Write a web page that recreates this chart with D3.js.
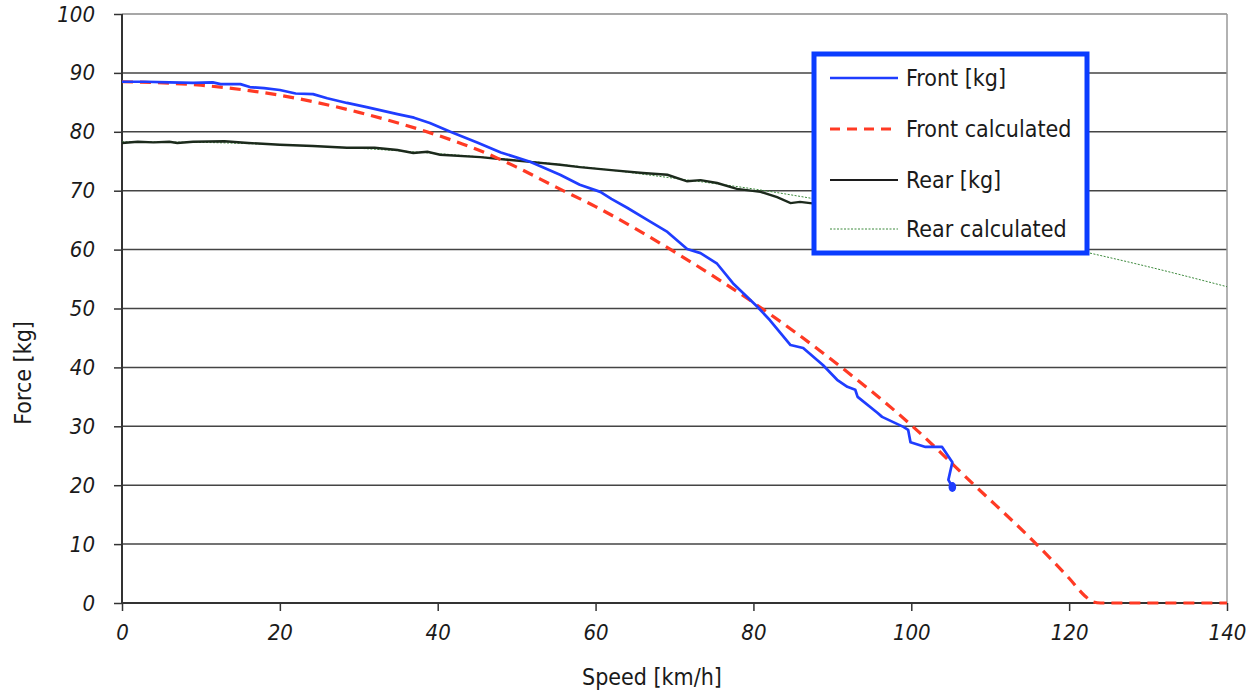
<!DOCTYPE html>
<html><head><meta charset="utf-8">
<script src="https://cdn.jsdelivr.net/npm/d3@7"></script>
<style>
body{margin:0;background:#fff;}
svg{display:block;}
text{font-family:"DejaVu Sans Condensed","DejaVu Sans",Verdana,sans-serif;fill:#1a1a1a;}
</style></head><body>
<svg id="c" width="1259" height="694"></svg>
<script>
const xTicks=[0,20,40,60,80,100,120,140];
const yTicks=[0,10,20,30,40,50,60,70,80,90,100];
const seriesNames=["Front [kg]","Front calculated","Rear [kg]","Rear calculated"];
const frontMeasured=[[0,88.5],[3,88.5],[6,88.4],[9,88.3],[11.5,88.4],[12.5,88.1],[15,88.1],[16.2,87.6],[18,87.4],[20,87.1],[22,86.5],[24.2,86.4],[26,85.7],[28.5,84.9],[31,84.2],[34.9,83.0],[37,82.4],[39,81.5],[41.6,80.0],[45,78.2],[48,76.5],[51.7,74.9],[55.5,72.7],[58,71.0],[60.6,69.8],[62,68.6],[64,67.1],[66.5,65.1],[69.1,63.0],[71.6,60.1],[73.3,59.4],[75.4,57.6],[77.4,54.3],[80.5,50.3],[82.1,48.0],[84.7,43.8],[86.3,43.3],[88.8,40.4],[90.6,37.9],[91.9,36.7],[92.9,36.2],[93.2,35.0],[95.7,32.3],[96.3,31.6],[99,29.9],[99.6,29.4],[99.9,27.3],[101.8,26.5],[103.9,26.5],[105.2,23.9],[104.7,20.9],[105.2,19.7]];
const frontCalculated=[[0,88.5],[10,87.9],[20,86.2],[30,83.3],[40,79.4],[45,77.0],[50,74.0],[55,70.6],[60,67.3],[70,59.6],[80,51.0],[90,41.2],[100,30.2],[108,20.0],[116,9.8],[120,4.2],[122,1.2],[123,0.2],[124,0],[140,0]];
const rearMeasured=[[0,78.1],[2,78.3],[4,78.2],[6,78.3],[7,78.1],[9,78.3],[13,78.4],[16,78.1],[20,77.8],[24.2,77.6],[28.5,77.3],[32,77.3],[34.9,76.9],[36.9,76.4],[38.7,76.6],[40.3,76.1],[45.4,75.7],[51.7,74.9],[55.5,74.4],[58,74.0],[62,73.5],[66,73.0],[69.1,72.7],[71.6,71.6],[73.3,71.8],[75.4,71.3],[77.9,70.3],[80.9,69.8],[83,68.9],[84.7,67.9],[85.9,68.1],[87.2,67.9],[90,67.5]];
const rearCalculated=[[0,78.3],[10,78.2],[20,77.8],[30,77.2],[40,76.3],[50,75.2],[60,73.8],[70,72.1],[80,70.3],[90,68.1],[100,65.7],[110,63.1],[120,60.2],[130,57.1],[140,53.7]];

const svg=d3.select("#c");
const L=122,R=1227,T=14,B=603;
const x=d3.scaleLinear().domain([0,140]).range([L,R]);
const y=d3.scaleLinear().domain([0,100]).range([B,T]);

// gridlines
svg.append("g").selectAll("line").data(yTicks.filter(d=>d>0)).join("line")
 .attr("x1",L).attr("x2",R).attr("y1",d=>y(d)).attr("y2",d=>y(d))
 .attr("stroke",d=>d===100?"#8a8a8a":"#444").attr("stroke-width",1.5);
// right border
svg.append("line").attr("x1",R).attr("x2",R).attr("y1",T).attr("y2",B).attr("stroke","#999").attr("stroke-width",1.5);

// axes
const yAxis=d3.axisLeft(y).tickValues(yTicks).tickSize(8).tickPadding(19).tickFormat(d3.format("d"));
const gy=svg.append("g").attr("transform",`translate(${L},0)`).call(yAxis);
const xAxis=d3.axisBottom(x).tickValues(xTicks).tickSize(8).tickPadding(13).tickFormat(d3.format("d"));
const gx=svg.append("g").attr("transform",`translate(0,${B})`).call(xAxis);
[gx,gy].forEach(g=>{
 g.select(".domain").attr("stroke","#333").attr("stroke-width",2);
 g.selectAll(".tick line").attr("stroke","#333").attr("stroke-width",1.5);
 g.selectAll(".tick text").attr("font-family","DejaVu Sans Condensed, DejaVu Sans, Verdana, sans-serif").attr("font-style","italic").attr("font-size",22).attr("fill","#1a1a1a");
});
gx.select(".domain").attr("d",`M${L},0H${R}`);
gy.select(".domain").attr("d",`M0,${B}V${T}`);

const line=d3.line().x(d=>x(d[0])).y(d=>y(d[1]));
const smooth=d3.line().x(d=>x(d[0])).y(d=>y(d[1])).curve(d3.curveMonotoneX);

svg.append("path").datum(rearCalculated).attr("d",smooth).attr("fill","none").attr("stroke","#3d8a3d").attr("stroke-width",1).attr("stroke-dasharray","2,1.5");
svg.append("path").datum(rearMeasured).attr("d",line).attr("fill","none").attr("stroke","#1c2a1c").attr("stroke-width",2.4);
svg.append("path").datum(frontCalculated).attr("d",smooth).attr("fill","none").attr("stroke","#ff3a24").attr("stroke-width",3.2).attr("stroke-dasharray","11,7");
svg.append("path").datum(frontMeasured).attr("d",line).attr("fill","none").attr("stroke","#1f3dff").attr("stroke-width",2.7).attr("stroke-linejoin","round");
const last=frontMeasured[frontMeasured.length-1];
svg.append("ellipse").attr("cx",x(last[0])).attr("cy",y(last[1])).attr("rx",3.8).attr("ry",5).attr("fill","#1f3dff");

// axis titles
svg.append("text").attr("x",652).attr("y",685).attr("text-anchor","middle").attr("font-size",23).text("Speed [km/h]");
svg.append("text").attr("transform","translate(31,373) rotate(-90)").attr("text-anchor","middle").attr("font-size",23).text("Force [kg]");

// legend
const lg=svg.append("g");
lg.append("rect").attr("x",814).attr("y",54).attr("width",273).attr("height",199).attr("fill","#fff").attr("stroke","#0a3cff").attr("stroke-width",5);
const styles=[
 {stroke:"#1f3dff",w:2.4,dash:null},
 {stroke:"#ff3a24",w:3,dash:"10,7"},
 {stroke:"#1c1c1c",w:2.2,dash:null},
 {stroke:"#3d8a3d",w:1,dash:"2,1.5"}];
const rowY=[78,129,180,229];
seriesNames.forEach((n,i)=>{
 const ln=lg.append("line").attr("x1",830).attr("x2",898).attr("y1",rowY[i]).attr("y2",rowY[i]).attr("stroke",styles[i].stroke).attr("stroke-width",styles[i].w);
 if(styles[i].dash) ln.attr("stroke-dasharray",styles[i].dash);
 lg.append("text").attr("x",906).attr("y",rowY[i]).attr("dy","0.36em").attr("font-size",23).attr("fill","#2a2a2a").text(n);
});
</script></body></html>
